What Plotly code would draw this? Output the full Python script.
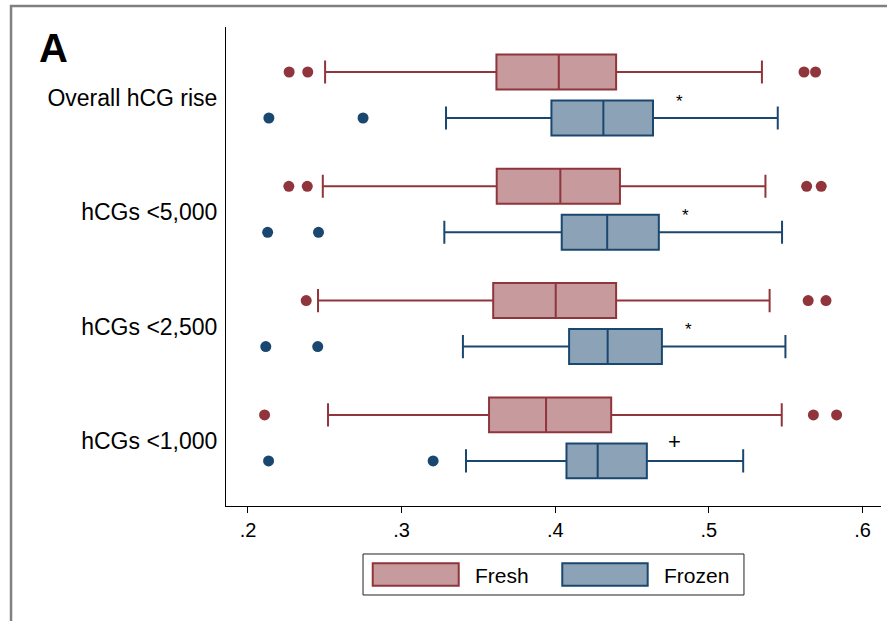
import plotly.graph_objects as go

# ---------------- data ----------------
groups = ["Overall hCG rise", "hCGs <5,000", "hCGs <2,500", "hCGs <1,000"]

fresh_lower = [0.2502, 0.2487, 0.2456, 0.2521]
fresh_q1 = [0.3617, 0.3619, 0.3596, 0.3569]
fresh_median = [0.4023, 0.4033, 0.4003, 0.3940]
fresh_q3 = [0.4396, 0.4421, 0.4396, 0.4364]
fresh_upper = [0.5345, 0.5368, 0.5395, 0.5474]
fresh_outliers = [
    [0.2268, 0.2389, 0.5619, 0.5694],
    [0.2266, 0.2386, 0.5636, 0.5731],
    [0.2379, 0.5646, 0.5762],
    [0.2108, 0.5680, 0.5831],
]

frozen_lower = [0.3289, 0.3278, 0.3399, 0.3419]
frozen_q1 = [0.3975, 0.4042, 0.4090, 0.4073]
frozen_median = [0.4313, 0.4338, 0.4341, 0.4276]
frozen_q3 = [0.4636, 0.4674, 0.4694, 0.4596]
frozen_upper = [0.5448, 0.5476, 0.5498, 0.5223]
frozen_outliers = [
    [0.2136, 0.2749],
    [0.2128, 0.2459],
    [0.2116, 0.2454],
    [0.2134, 0.3205],
]

sig_marks = ["*", "*", "*", "+"]
sig_x = [0.4806, 0.4847, 0.4870, 0.4774]

x_ticks = [0.2, 0.3, 0.4, 0.5, 0.6]
x_ticktext = [".2", ".3", ".4", ".5", ".6"]

# ---------------- styles ----------------
FONT = "Liberation Sans, Arial, Helvetica, sans-serif"
FRESH_LINE = "#90353B"
FRESH_FILL = "#C79A9D"
FROZEN_LINE = "#1A476F"
FROZEN_FILL = "#8CA3B7"

fig = go.Figure()

fig.add_trace(go.Box(
    name="Fresh", orientation="h", y=groups,
    q1=fresh_q1, median=fresh_median, q3=fresh_q3,
    lowerfence=fresh_lower, upperfence=fresh_upper,
    fillcolor=FRESH_FILL, line=dict(color=FRESH_LINE, width=2),
    whiskerwidth=0.66, offsetgroup="fresh", showlegend=False, hoverinfo="skip",
))
fig.add_trace(go.Box(
    name="Frozen", orientation="h", y=groups,
    q1=frozen_q1, median=frozen_median, q3=frozen_q3,
    lowerfence=frozen_lower, upperfence=frozen_upper,
    fillcolor=FROZEN_FILL, line=dict(color=FROZEN_LINE, width=2),
    whiskerwidth=0.66, offsetgroup="frozen", showlegend=False, hoverinfo="skip",
))

def flat(outl):
    xs, ys = [], []
    for g, vals in zip(groups, outl):
        for v in vals:
            xs.append(v)
            ys.append(g)
    return xs, ys

fx, fy = flat(fresh_outliers)
zx, zy = flat(frozen_outliers)
fig.add_trace(go.Scatter(
    x=fx, y=fy, mode="markers", orientation="h", offsetgroup="fresh",
    marker=dict(color=FRESH_LINE, size=11), showlegend=False, hoverinfo="skip",
))
fig.add_trace(go.Scatter(
    x=zx, y=zy, mode="markers", orientation="h", offsetgroup="frozen",
    marker=dict(color=FROZEN_LINE, size=11), showlegend=False, hoverinfo="skip",
))

annotations = []
for g, m, xv in zip(groups, sig_marks, sig_x):
    annotations.append(dict(
        x=xv, y=g, xref="x", yref="y", text=m, showarrow=False,
        font=dict(family=FONT, size=17 if m == "*" else 22, color="black"),
        yshift=-6 if m == "*" else -4,
    ))

# panel label
annotations.append(dict(
    x=-0.2626, y=0.9562, xref="paper", yref="paper", text="<b>A</b>",
    showarrow=False, xanchor="center", yanchor="middle",
    font=dict(family=FONT, size=40, color="black"),
))
# legend text
annotations.append(dict(
    x=0.3766, y=-0.1441, xref="paper", yref="paper", text="Fresh",
    showarrow=False, xanchor="left", yanchor="middle",
    font=dict(family=FONT, size=21, color="black"),
))
annotations.append(dict(
    x=0.6661, y=-0.1441, xref="paper", yref="paper", text="Frozen",
    showarrow=False, xanchor="left", yanchor="middle",
    font=dict(family=FONT, size=21, color="black"),
))

shapes = [
    # outer frame
    dict(type="rect", xref="paper", yref="paper", x0=-0.3282, x1=1.05, y0=-0.35, y1=1.0438,
         line=dict(color="#808080", width=2.5), fillcolor="rgba(0,0,0,0)", layer="below"),
    # legend box
    dict(type="rect", xref="paper", yref="paper", x0=0.2092, x1=0.7908, y0=-0.1858, y1=-0.1002,
         line=dict(color="#222222", width=1), fillcolor="white"),
    dict(type="rect", xref="paper", yref="paper", x0=0.2240, x1=0.3553, y0=-0.1664, y1=-0.1196,
         line=dict(color=FRESH_LINE, width=2), fillcolor=FRESH_FILL),
    dict(type="rect", xref="paper", yref="paper", x0=0.5134, x1=0.6438, y0=-0.1664, y1=-0.1196,
         line=dict(color=FROZEN_LINE, width=2), fillcolor=FROZEN_FILL),
]

fig.update_layout(
    width=887, height=621,
    margin=dict(l=226, r=6, t=27, b=115),
    paper_bgcolor="white", plot_bgcolor="white",
    boxmode="group", boxgap=0.195, boxgroupgap=0.24,
    scattermode="group", scattergap=0.195,
    font=dict(family=FONT, color="black"),
    annotations=annotations, shapes=shapes,
    showlegend=False,
)
fig.update_xaxes(
    range=[0.1857, 0.612], tickvals=x_ticks, ticktext=x_ticktext,
    ticks="outside", ticklen=6, tickcolor="black", tickwidth=1,
    showline=True, linecolor="black", linewidth=1,
    showgrid=False, zeroline=False, tickfont=dict(family=FONT, size=20, color="black"),
)
fig.update_yaxes(
    type="category", categoryorder="array", categoryarray=groups,
    range=[3.596, -0.595], ticks="", showline=True, linecolor="black", linewidth=1,
    showgrid=False, zeroline=False, ticklabelstandoff=3, ticklabelshift=-3,
    tickfont=dict(family=FONT, size=23, color="black"),
)

fig.write_html("out.html")
